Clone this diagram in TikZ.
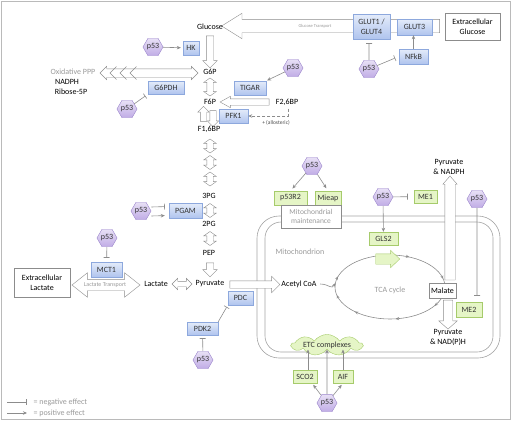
\documentclass[tikz,border=0pt]{standalone}
\usepackage{fontspec}
\setmainfont{Carlito}
\usetikzlibrary{arrows.meta, shapes.geometric, shapes.arrows, shapes.symbols, decorations.markings}

\definecolor{linegray}{HTML}{8C8C8C}
\definecolor{txtgray}{HTML}{9A9A9A}
\definecolor{bluetop}{HTML}{E4ECFA}
\definecolor{bluebot}{HTML}{B0C4EE}
\definecolor{blueline}{HTML}{8DA8DD}
\definecolor{greenfill}{HTML}{E5F5C6}
\definecolor{greenline}{HTML}{A6CB6B}
\definecolor{ptop}{HTML}{E8E0F6}
\definecolor{pbot}{HTML}{C0ACE5}
\definecolor{pline}{HTML}{9C86CC}

\begin{document}
\begin{tikzpicture}[x=1pt, y=-1pt, font=\fontsize{8}{9.5}\selectfont,
  enz/.style={draw=blueline, top color=bluetop, bottom color=bluebot, inner sep=0pt, text=black!80},
  tgt/.style={draw=greenline, fill=greenfill, inner sep=0pt, text=black!80},
  wbox/.style={draw=linegray, fill=white, inner sep=0pt, align=center},
  pf/.style={regular polygon, regular polygon sides=6, minimum size=20pt, inner sep=0pt,
    draw=pline, top color=ptop, bottom color=pbot, text=black!80},
  act/.style={draw=linegray, line width=0.6pt, -{Stealth[length=4pt, width=3.5pt]}},
  inh/.style={draw=linegray, line width=0.6pt, -{Bar[width=6pt]}},
  glabel/.style={text=txtgray},
  hol/.style 2 args={single arrow, draw=linegray, fill=white, inner sep=0pt,
    inner ysep=#1, single arrow head extend=#2},
  hol2/.style 2 args={double arrow, draw=linegray, fill=white, inner sep=0pt,
    inner ysep=#1, double arrow head extend=#2}]

\useasboundingbox (0,0) rectangle (512,421);
\draw[linegray!60] (1,1) rectangle (510.5,419);

% mitochondrion
\draw[linegray!80, line width=0.6pt, rounded corners=22pt] (257,216) rectangle (500,358);
\draw[linegray!80, line width=0.6pt, rounded corners=16pt] (265,222) rectangle (493,352);

% TCA cycle
\node[glabel] (tca) at (390,290) {TCA cycle};
\coordinate (tcain) at (335.5,283);
\draw[linegray, line width=0.6pt, postaction={decorate}, decoration={markings,
  mark=at position 0.03 with {\arrowreversed{Stealth[length=3.5pt,width=3pt,color=linegray]}},
  mark=at position 0.18 with {\arrowreversed{Stealth[length=3.5pt,width=3pt,color=linegray]}},
  mark=at position 0.46 with {\arrowreversed{Stealth[length=3.5pt,width=3pt,color=linegray]}},
  mark=at position 0.53 with {\arrowreversed{Stealth[length=3.5pt,width=3pt,color=linegray]}},
  mark=at position 0.62 with {\arrowreversed{Stealth[length=3.5pt,width=3pt,color=linegray]}},
  mark=at position 0.77 with {\arrowreversed{Stealth[length=3.5pt,width=3pt,color=linegray]}},
  mark=at position 0.92 with {\arrowreversed{Stealth[length=3.5pt,width=3pt,color=linegray]}}}]
  (390,287) ellipse [x radius=55pt, y radius=32pt];

% big hollow arrows
\node[hol={6.5pt}{6pt}, single arrow tip angle=64, minimum height=218pt, rotate=180] (glctr) at (336,26) {};
\node[hol={3.5pt}{3.5pt}, minimum height=32pt, rotate=-90] (aglc) at (210,50) {};
\node[hol2={4pt}{2.5pt}, minimum height=98pt] (appp) at (149,73) {};
\foreach \t in {110,120,130}
  \draw[linegray] ({\t+6.5},66.5) -- (\t,73) -- ({\t+6.5},79.5);
\node[hol2={3pt}{3pt}, double arrow tip angle=110, minimum height=18pt, rotate=90] (ag6p) at (210,87) {};
\node[hol={3pt}{2.5pt}, minimum height=15pt, rotate=90] (afbpup) at (203.5,115.5) {};
\node[hol={3pt}{2.5pt}, minimum height=16pt, rotate=-90] (afbpdn) at (213,117) {};
\node[hol={3pt}{2.5pt}, single arrow tip angle=58, minimum height=49pt, rotate=180] (af26) at (247.5,102) {};
\foreach \y [count=\i] in {146,162.5,179,210.5,238.5}
  \node[hol2={3pt}{3pt}, double arrow tip angle=110, minimum height=14pt, rotate=90] (alow\i) at (210,\y) {};
\node[hol={3.5pt}{3.5pt}, minimum height=14pt, rotate=-90] (apep) at (210,268) {};
\node[hol2={2.5pt}{3pt}, minimum height=20pt] (alac) at (182,284) {};
\node[hol2={5.5pt}{6.5pt}, double arrow tip angle=77, minimum height=68pt] (lactr) at (106,285) {};
\node[hol={3.5pt}{4.5pt}, minimum height=50pt] (apyr) at (253,284.5) {};
\node[hol={5pt}{2pt}, single arrow tip angle=82, minimum height=104pt, rotate=90] (amalup) at (450,231) {};
\node[hol={4.5pt}{4.5pt}, single arrow tip angle=97, minimum height=29pt, rotate=-90] (amaldn) at (448,312.5) {};
\node[hol={5pt}{3.5pt}, single arrow tip angle=87, minimum height=24pt, draw=greenline, fill=greenfill] (agls) at (385,259) {};

% enzymes
\node[enz, minimum width=37pt, minimum height=25pt, align=center] (glut14) at (371.5,26.5) {GLUT1 /\\GLUT4};
\node[enz, minimum width=35pt, minimum height=16pt] (glut3) at (414.5,27) {GLUT3};
\node[wbox, minimum width=55pt, minimum height=27pt] (exglc) at (472.5,26.5) {Extracellular\\Glucose};
\node[enz, minimum width=29pt, minimum height=15pt] (nfkb) at (413.5,56.5) {NFkB};
\node[enz, minimum width=16pt, minimum height=14pt] (hk) at (191,48) {HK};
\node[enz, minimum width=36pt, minimum height=13pt] (g6pdh) at (166,87.5) {G6PDH};
\node[enz, minimum width=32pt, minimum height=14pt] (tigar) at (250,88) {TIGAR};
\node[enz, minimum width=29pt, minimum height=14pt] (pfk1) at (233.5,116) {PFK1};
\node[enz, minimum width=33pt, minimum height=15pt] (pgam) at (185.5,210.5) {PGAM};
\node[enz, minimum width=31pt, minimum height=15pt] (mct1) at (106.5,269.5) {MCT1};
\node[wbox, minimum width=56pt, minimum height=29pt] (exlac) at (42,282.5) {Extracellular\\Lactate};
\node[enz, minimum width=25pt, minimum height=14pt] (pdc) at (240.5,298) {PDC};
\node[enz, minimum width=31pt, minimum height=13pt] (pdk2) at (202.5,328.5) {PDK2};

% mitochondrial targets
\node[tgt, minimum width=33pt, minimum height=14pt] (p53r2) at (290.5,198) {p53R2};
\node[tgt, minimum width=26pt, minimum height=14pt] (mieap) at (328,198) {Mieap};
\node[wbox, text=txtgray, minimum width=60pt, minimum height=23pt, font=\fontsize{7.5}{9}\selectfont] (mitomaint) at (311,216.5) {Mitochondrial\\maintenance};
\node[tgt, minimum width=23pt, minimum height=13pt] (me1) at (425.5,196.5) {ME1};
\node[tgt, minimum width=29pt, minimum height=13pt] (gls2) at (383.5,238.5) {GLS2};
\node[tgt, minimum width=26pt, minimum height=15pt] (me2) at (469,309.5) {ME2};
\node[tgt, minimum width=24pt, minimum height=13pt] (sco2) at (305,376.5) {SCO2};
\node[tgt, minimum width=20pt, minimum height=13pt] (aif) at (343,376.5) {AIF};
\node[wbox, minimum width=27pt, minimum height=15pt] (malate) at (442.5,290.5) {Malate};
\node[cloud, cloud puffs=9, cloud puff arc=110, cloud ignores aspect, draw=greenline, fill=greenfill, inner sep=0pt,
  minimum width=71pt, minimum height=20pt, text=black!80] (etc) at (327,345) {ETC complexes};

% p53
\node[pf] (p53hk) at (153,47) {p53};
\node[pf] (p53g6pdh) at (127,109) {p53};
\node[pf] (p53tigar) at (293,68) {p53};
\node[pf] (p53glut) at (369,69) {p53};
\node[pf] (p53pgam) at (141,211) {p53};
\node[pf] (p53mct) at (107,238) {p53};
\node[pf] (p53pdk) at (203,360) {p53};
\node[pf] (p53mito) at (312,166) {p53};
\node[pf] (p53me1) at (383,197) {p53};
\node[pf] (p53me2) at (477,199) {p53};
\node[pf] (p53etc) at (327,403) {p53};

% metabolites
\node (glucose) at (210,27) {Glucose};
\node (gsixp) at (210,72) {G6P};
\node (fsixp) at (210,102) {F6P};
\node (fbp) at (209,129) {F1,6BP};
\node (fbpb) at (287,102) {F2,6BP};
\node (pgthree) at (209,196) {3PG};
\node (pgtwo) at (209,224) {2PG};
\node (pep) at (209,253) {PEP};
\node (pyr) at (210,284) {Pyruvate};
\node (lac) at (156,284) {Lactate};
\node (acoa) at (299,284) {Acetyl CoA};
\node[align=center] (pyrup) at (449,167) {Pyruvate\\\& NADPH};
\node[align=center] (pyrdn) at (448,337.5) {Pyruvate\\\& NAD(P)H};
\node[glabel] (oxppp) at (73,72) {Oxidative PPP};
\node (nadph) at (67,82) {NADPH};
\node (ribose) at (71,92) {Ribose-5P};
\node[glabel] (mito) at (300,252) {Mitochondrion};
\node[glabel, font=\fontsize{4.5}{5}\selectfont] (glclab) at (315,26) {Glucose Transport};
\node[glabel, font=\fontsize{6}{7}\selectfont] (laclab) at (105,285) {Lactate Transport};
\node[font=\fontsize{5.5}{6}\selectfont, text=black!70] (allo) at (276,122.5) {+ (allosteric)};

% effects
\draw[act, shorten >=2pt] (p53hk) -- (hk);
\draw[inh, shorten >=3pt] (p53g6pdh) -- (g6pdh.south west);
\draw[act, shorten >=1pt] (p53tigar) -- (tigar.north east);
\draw[inh, shorten >=4pt] (p53glut) -- (p53glut |- glut14.south);
\draw[inh, shorten >=4pt] (p53glut) -- (nfkb.west);
\draw[act] (nfkb.north) -- (nfkb.north |- glut3.south);
\draw[act, densely dashed] ([xshift=1pt]fbpb.south) |- (pfk1.east);
\draw[inh, shorten >=4pt] ([yshift=4pt]p53pgam.east) -- ([yshift=4pt]pgam.west);
\draw[act, shorten >=4pt] ([yshift=-5pt]p53pgam.east) -- ([yshift=-5pt]pgam.west);
\draw[inh, shorten >=4pt] (p53mct) -- (mct1);
\draw[inh, shorten >=2pt] (pdk2.north east) -- (pdc.south west);
\draw[inh, shorten >=3pt] (p53pdk) -- (pdk2);
\draw[act, shorten >=3pt] (p53mito) -- (p53r2.north);
\draw[act, shorten >=3pt] (p53mito) -- (mieap.north);
\draw[inh, shorten >=6pt] (p53me1) -- (me1);
\draw[act] (p53me1) -- (gls2);
\draw[inh, shorten >=6pt] (p53me2) -- (p53me2 |- me2.north);
\draw[act, shorten >=2pt] (p53etc) -- ([xshift=7pt]sco2.south);
\draw[act, shorten >=2pt] (p53etc) -- (aif.south);
\draw[act] (p53etc) -- (etc.south);
\draw[act] ([xshift=3pt]sco2.north) -- ([xshift=3pt]sco2.north |- etc.south);
\draw[act] (aif.north) -- (aif.north |- etc.south);
\draw[act] (acoa.east) .. controls +(9,0) and +(-4,7) .. (tcain);

% legend
\coordinate (lgnega) at (7,402);
\coordinate (lgnegb) at (27,402);
\coordinate (lgposa) at (7,413);
\coordinate (lgposb) at (27,413);
\draw[inh] (lgnega) -- (lgnegb);
\draw[act] (lgposa) -- (lgposb);
\node[glabel, anchor=west] (lgneg) at (30,402) {= negative effect};
\node[glabel, anchor=west] (lgpos) at (30,413) {= positive effect};
\end{tikzpicture}
\end{document}
